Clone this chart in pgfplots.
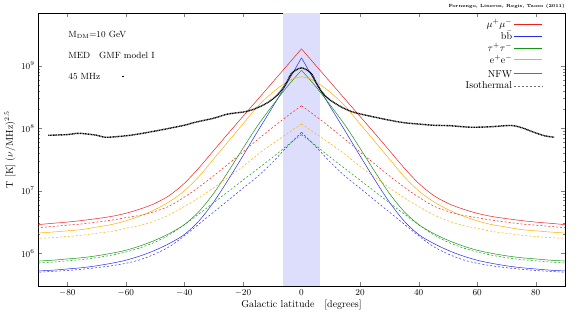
\documentclass[border=0pt]{standalone}
\usepackage{pgfplots}
\usepackage{pgfplotstable}
\pgfplotsset{compat=1.18}
\usetikzlibrary{calc}
\definecolor{cred}{RGB}{240,30,30}
\definecolor{cblue}{RGB}{40,40,240}
\definecolor{cgreen}{RGB}{20,150,20}
\definecolor{corange}{RGB}{255,175,0}
\definecolor{cband}{RGB}{221,221,252}
\definecolor{cgray}{RGB}{110,110,110}

% b = |galactic latitude| (deg), v = T [K] (nu/MHz)^2.5
\pgfplotstableread{
b v
0 1.87e9
5 1.0e9
10 5.37e8
15 2.88e8
20 1.55e8
25 8.32e7
30 4.42e7
35 2.34e7
40 1.32e7
45 8.51e6
50 6.31e6
55 5.13e6
60 4.37e6
65 3.89e6
70 3.59e6
75 3.35e6
80 3.16e6
85 3.02e6
90 2.88e6
}\redN
\pgfplotstableread{
b v
0 1.34e9
5 5.25e8
10 2.14e8
15 8.91e7
20 3.63e7
25 1.51e7
30 6.61e6
35 3.31e6
40 2.0e6
45 1.45e6
50 1.12e6
55 9.12e5
60 7.76e5
65 6.92e5
70 6.31e5
75 5.89e5
80 5.62e5
85 5.37e5
90 5.22e5
}\blueN
\pgfplotstableread{
b v
0 8.51e8
5 4.57e8
10 2.29e8
15 1.10e8
20 4.79e7
25 2.04e7
30 9.12e6
35 4.68e6
40 2.88e6
45 2.09e6
50 1.62e6
55 1.32e6
60 1.12e6
65 1.0e6
70 9.12e5
75 8.51e5
80 8.13e5
85 7.76e5
90 7.53e5
}\greenN
\pgfplotstableread{
b v
0 6.67e8
3 6.17e8
6 5.13e8
10 3.72e8
15 2.24e8
20 1.175e8
25 6.17e7
30 3.24e7
35 1.70e7
40 1.0e7
45 6.76e6
50 5.01e6
55 3.98e6
60 3.31e6
65 2.88e6
70 2.63e6
75 2.40e6
80 2.29e6
85 2.19e6
90 2.11e6
}\orangeN
\pgfplotstableread{
b v
0 2.29e8
5 1.55e8
10 1.02e8
15 6.61e7
20 4.17e7
25 2.69e7
30 1.74e7
35 1.15e7
40 7.94e6
45 5.75e6
50 4.68e6
55 4.07e6
60 3.72e6
65 3.39e6
70 3.16e6
75 2.95e6
80 2.82e6
85 2.69e6
90 2.57e6
}\redI
\pgfplotstableread{
b v
0 8.63e7
5 5.01e7
10 2.82e7
15 1.70e7
20 1.10e7
25 7.08e6
30 4.57e6
35 2.95e6
40 1.905e6
45 1.29e6
50 9.77e5
55 7.94e5
60 6.92e5
65 6.31e5
70 5.89e5
75 5.56e5
80 5.31e5
85 5.13e5
90 4.98e5
}\blueI
\pgfplotstableread{
b v
0 7.94e7
5 5.25e7
10 3.39e7
15 2.24e7
20 1.48e7
25 9.77e6
30 6.46e6
35 4.27e6
40 2.88e6
45 2.0e6
50 1.51e6
55 1.23e6
60 1.047e6
65 9.33e5
70 8.51e5
75 7.94e5
80 7.59e5
85 7.24e5
90 7.0e5
}\greenI
\pgfplotstableread{
b v
0 1.175e8
5 8.13e7
10 5.62e7
15 3.80e7
20 2.45e7
25 1.66e7
30 1.12e7
35 7.76e6
40 5.62e6
45 4.17e6
50 3.31e6
55 2.82e6
60 2.51e6
65 2.24e6
70 2.09e6
75 1.95e6
80 1.86e6
85 1.78e6
90 1.74e6
}\orangeI
\pgfplotstableread{
b v
-86.5 7.73e7
-80 7.94e7
-76 8.32e7
-70 7.76e7
-66.8 7.18e7
-60 7.59e7
-55.5 8.13e7
-48 9.42e7
-40 1.12e8
-36.6 1.24e8
-30 1.45e8
-25.2 1.69e8
-20 1.82e8
-17.2 1.95e8
-14 2.24e8
-11.5 2.59e8
-9 3.16e8
-7 3.98e8
-5 5.5e8
-3.6 7.36e8
-2 8.5e8
0 9.3e8
2 8.5e8
3.6 7.24e8
5 5.37e8
7 3.80e8
9 3.02e8
11.5 2.51e8
14 2.14e8
17 1.86e8
20 1.70e8
25 1.51e8
30 1.35e8
35 1.23e8
40 1.17e8
45 1.12e8
51 1.10e8
57.8 1.04e8
64.7 1.06e8
71.5 1.11e8
75 1.03e8
79.5 8.6e7
83 7.6e7
86.3 7.2e7
}\data

\newcommand{\both}[2]{%
  \addplot[#1,forget plot,smooth] table[x expr=-\thisrow{b},y=v] {#2};
  \addplot[#1,forget plot,smooth] table[x=b,y=v] {#2};
}

\begin{document}
\begin{tikzpicture}
\begin{axis}[
  scale only axis,
  width=527bp, height=273bp,
  ymode=log,
  xmin=-90, xmax=90, ymin=3e5, ymax=7e9,
  xtick={-80,-60,...,80},
  ytick={1e6,1e7,1e8,1e9},
  tick pos=both,
  tick align=inside,
  major tick length=4bp,
  minor tick length=2bp,
  tick label style={font=\small},
  xlabel={Galactic latitude \ \ [degrees]},
  ylabel={T [K] ($\nu$/MHz)$^{2.5}$},
  label style={font=\normalsize},
  xlabel style={yshift=3bp},
  ylabel style={yshift=-1bp},
  legend plot pos=right,
  legend cell align=right,
  legend style={draw=none, fill=none, font=\normalsize,
    at={(axis description cs:0.9585,0.985)}, anchor=north east,
    row sep=-1.6pt, inner sep=0pt},
  legend image code/.code={\draw[#1,line width=0.9pt] (0bp,0bp) -- (28bp,0bp);},
  every axis plot/.append style={line width=0.5pt},
]
\addplot[fill=cband, draw=none, forget plot] coordinates {(-6.3,3e5) (6.3,3e5) (6.3,7e9) (-6.3,7e9)} --cycle;

\both{cred}{\redN}
\both{cblue}{\blueN}
\both{cgreen}{\greenN}
\both{corange}{\orangeN}
\both{cred,dash pattern=on 2pt off 2pt}{\redI}
\both{cblue,dash pattern=on 2pt off 2pt}{\blueI}
\both{cgreen,dash pattern=on 2pt off 2pt}{\greenI}
\both{corange,dash pattern=on 2pt off 2pt}{\orangeI}

\addplot[black, line width=1.4pt, dash pattern=on 1pt off 0.6pt, smooth, forget plot] table[x=b,y=v] {\data};

\addlegendimage{color=cred}\addlegendentry{$\mu^+\mu^-$\hspace{14bp}}
\addlegendimage{color=cblue}\addlegendentry{$\mathrm{b\bar b}$\hspace{14bp}}
\addlegendimage{color=cgreen}\addlegendentry{$\tau^+\tau^-$\hspace{14bp}}
\addlegendimage{color=corange}\addlegendentry{$\mathrm{e}^+\mathrm{e}^-$\hspace{14bp}}
\addlegendimage{color=cgray}\addlegendentry{\rule{0pt}{11bp}NFW\hspace{14bp}}
\addlegendimage{color=cgray,dash pattern=on 2pt off 2pt}\addlegendentry{Isothermal\hspace{14bp}}

\node[anchor=west, font=\small] at (rel axis cs:0.051,0.92) {M$_{\mathrm{DM}}$=10 GeV};
\node[anchor=west, font=\small] at (rel axis cs:0.051,0.846) {MED\quad GMF model I};
\node[anchor=west, font=\small] at (rel axis cs:0.051,0.769) {45 MHz\hspace{22bp}\raisebox{0.4ex}{\rule{1.6pt}{1.6pt}}};

\coordinate (ll) at (rel axis cs:0,0);
\coordinate (ur) at (rel axis cs:1,1);
\end{axis}
\node[anchor=south east, font=\fontsize{4.5}{5}\selectfont\bfseries, inner sep=0pt] at ($(ur)+(0bp,4bp)$) {Fornengo, Lineros, Regis, Taoso (2011)};
\pgfresetboundingbox
\path[use as bounding box] ($(ll)+(-38bp,-33bp)$) rectangle ($(ur)+(17bp,13bp)$);
\end{tikzpicture}
\end{document}
